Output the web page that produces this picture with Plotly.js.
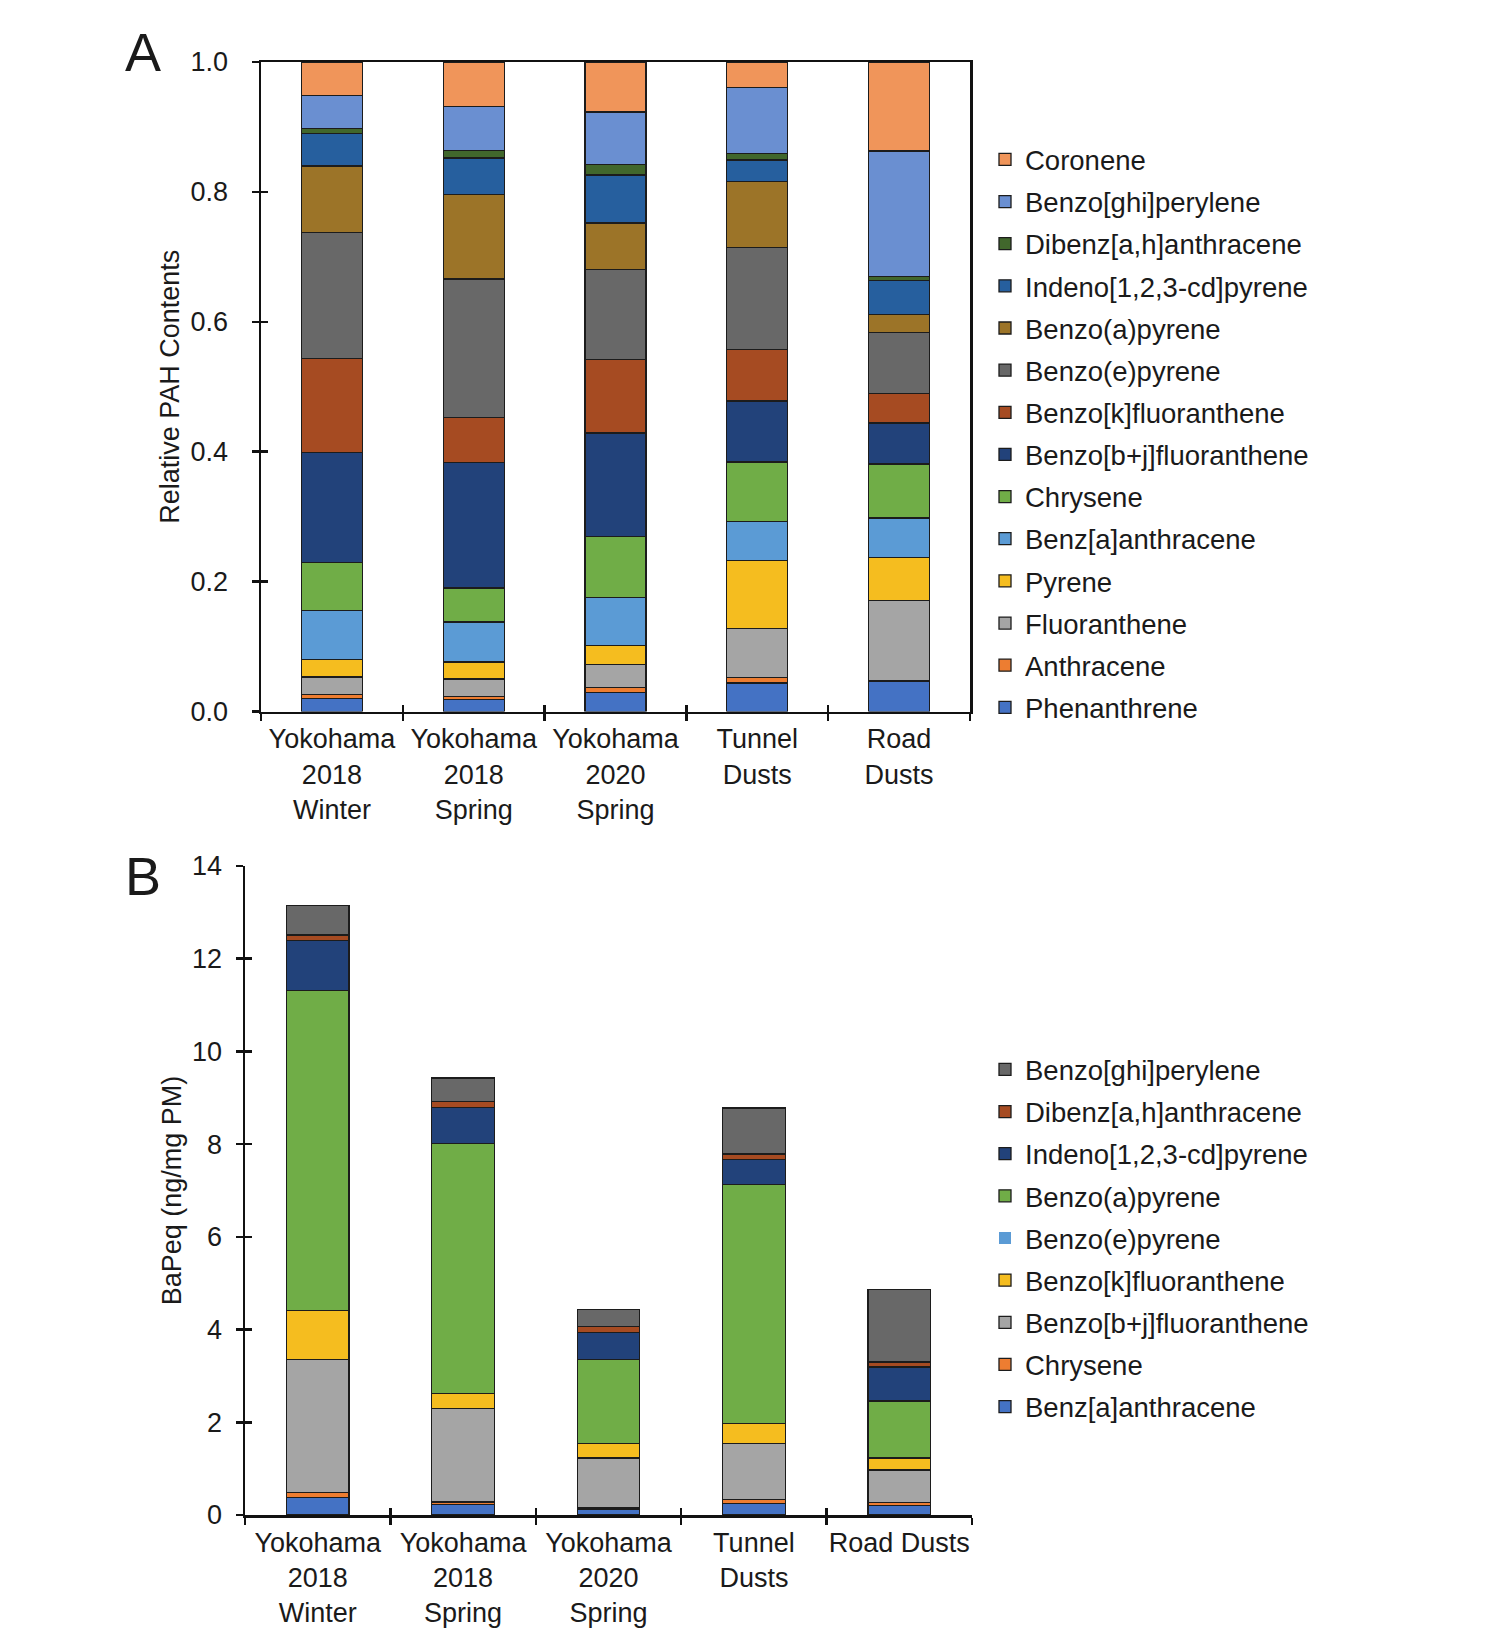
<!DOCTYPE html>
<html>
<head>
<meta charset="utf-8">
<script src="https://cdn.plot.ly/plotly-3.0.1.min.js"></script>
<style>html,body{margin:0;padding:0;background:#fff;}#chart{width:1492px;height:1652px;}</style>
</head>
<body>
<div id="chart"></div>
<script>
// ---------- Panel A data (relative PAH contents) ----------
const catsA = ["Yokohama<br>2018<br>Winter", "Yokohama<br>2018<br>Spring", "Yokohama<br>2020<br>Spring", "Tunnel<br>Dusts", "Road<br>Dusts"];
const namesA = ["Phenanthrene", "Anthracene", "Fluoranthene", "Pyrene", "Benz[a]anthracene", "Chrysene",
  "Benzo[b+j]fluoranthene", "Benzo[k]fluoranthene", "Benzo(e)pyrene", "Benzo(a)pyrene",
  "Indeno[1,2,3-cd]pyrene", "Dibenz[a,h]anthracene", "Benzo[ghi]perylene", "Coronene"];
const colorsA = ["#4472C4", "#ED7D31", "#A5A5A5", "#F5BD1F", "#5B9BD5", "#70AD47",
  "#22427A", "#A64B22", "#686868", "#9C7428", "#265F9E", "#41672C", "#6A8FD1", "#F0955A"];
const phenA   = [0.020, 0.018, 0.029, 0.044, 0.046];
const anthA   = [0.006, 0.005, 0.008, 0.008, 0.002];
const fluoA   = [0.027, 0.027, 0.035, 0.076, 0.123];
const pyrA    = [0.027, 0.026, 0.030, 0.105, 0.066];
const baaA    = [0.076, 0.062, 0.074, 0.060, 0.061];
const chrA    = [0.073, 0.052, 0.093, 0.091, 0.083];
const bbjfA   = [0.170, 0.193, 0.160, 0.094, 0.063];
const bkfA    = [0.145, 0.070, 0.113, 0.079, 0.046];
const bepA    = [0.193, 0.213, 0.138, 0.157, 0.094];
const bapA    = [0.103, 0.130, 0.072, 0.102, 0.027];
const indA    = [0.050, 0.056, 0.074, 0.033, 0.053];
const dbaA    = [0.008, 0.012, 0.016, 0.010, 0.006];
const bghiA   = [0.050, 0.067, 0.081, 0.102, 0.193];
const corA    = [0.052, 0.069, 0.077, 0.039, 0.137];
const valuesA = [phenA, anthA, fluoA, pyrA, baaA, chrA, bbjfA, bkfA, bepA, bapA, indA, dbaA, bghiA, corA];
const ticksA = [0, 0.2, 0.4, 0.6, 0.8, 1.0];
const tickTextA = ["0.0", "0.2", "0.4", "0.6", "0.8", "1.0"];

// ---------- Panel B data (BaPeq, ng/mg PM) ----------
const catsB = ["Yokohama<br>2018<br>Winter", "Yokohama<br>2018<br>Spring", "Yokohama<br>2020<br>Spring", "Tunnel<br>Dusts", "Road Dusts"];
const namesB = ["Benz[a]anthracene", "Chrysene", "Benzo[b+j]fluoranthene", "Benzo[k]fluoranthene",
  "Benzo(e)pyrene", "Benzo(a)pyrene", "Indeno[1,2,3-cd]pyrene", "Dibenz[a,h]anthracene", "Benzo[ghi]perylene"];
const colorsB = ["#4472C4", "#ED7D31", "#A5A5A5", "#F5BD1F", "#5B9BD5", "#70AD47", "#22427A", "#A64B22", "#686868"];
const baaB  = [0.38, 0.22, 0.13, 0.25, 0.20];
const chrB  = [0.10, 0.06, 0.03, 0.08, 0.07];
const bbjfB = [2.88, 2.02, 1.07, 1.21, 0.70];
const bkfB  = [1.05, 0.32, 0.31, 0.44, 0.26];
const bepB  = [0, 0, 0, 0, 0];
const bapB  = [6.90, 5.40, 1.81, 5.15, 1.23];
const indB  = [1.09, 0.77, 0.58, 0.54, 0.73];
const dbaB  = [0.11, 0.13, 0.14, 0.12, 0.11];
const bghiB = [0.64, 0.51, 0.36, 0.99, 1.56];
const valuesB = [baaB, chrB, bbjfB, bkfB, bepB, bapB, indB, dbaB, bghiB];
const ticksB = [0, 2, 4, 6, 8, 10, 12, 14];
const boundaryTicks = [-0.5, 0.5, 1.5, 2.5, 3.5, 4.5];

// ---------- traces ----------
const traces = [];
namesA.forEach((n, i) => {
  traces.push({
    type: "bar", name: n, x: catsA, y: valuesA[i],
    xaxis: "x", yaxis: "y", legend: "legend", legendgroup: "A" + i, legendrank: 1000 - i,
    marker: {color: colorsA[i], line: {color: "#1c1c1c", width: 1.3}},
    hoverinfo: "name+y"
  });
});
namesB.forEach((n, i) => {
  traces.push({
    type: "bar", name: n, x: catsB, y: valuesB[i],
    xaxis: "x2", yaxis: "y2", legend: "legend2", legendgroup: "B" + i, legendrank: 1000 - i,
    marker: {color: colorsB[i], line: {color: "#1c1c1c", width: n === "Benzo(e)pyrene" ? 0 : 1.3}},
    hoverinfo: "name+y"
  });
});
// empty helper traces so the overlay (inner tick) axes get drawn
traces.push({type: "scatter", mode: "markers", x: [null], y: [null], xaxis: "x3", yaxis: "y3", showlegend: false, hoverinfo: "skip"});
traces.push({type: "scatter", mode: "markers", x: [null], y: [null], xaxis: "x4", yaxis: "y4", showlegend: false, hoverinfo: "skip"});

const FONT = "Liberation Sans, Arial, sans-serif";
const TXT = "#1a1a1a";
const W = 1492, H = 1652;
const px = v => v / W;
const py = v => 1 - v / H;

const baseAxis = {
  showline: true, linecolor: "#111", linewidth: 2.5,
  ticks: "outside", tickcolor: "#111", tickwidth: 2.5, ticklen: 7,
  showgrid: false, zeroline: false,
  tickfont: {family: FONT, size: 27, color: TXT}
};
const innerTicks = {
  showline: false, showgrid: false, zeroline: false,
  ticks: "inside", ticklen: 7, tickwidth: 2.5, tickcolor: "#111",
  showticklabels: false
};

const legendCommon = {
  xanchor: "left", yanchor: "top",
  traceorder: "grouped", tracegroupgap: 3.4,
  font: {family: FONT, size: 27.5, color: TXT},
  bgcolor: "rgba(0,0,0,0)", borderwidth: 0
};

const layout = {
  width: W, height: H,
  margin: {l: 0, r: 0, t: 0, b: 0},
  paper_bgcolor: "#fff", plot_bgcolor: "#fff",
  font: {family: FONT, color: TXT},
  barmode: "stack",
  showlegend: true,
  // Panel A
  xaxis: Object.assign({}, baseAxis, {
    domain: [px(261), px(970)], anchor: "y", type: "category",
    tickson: "boundaries", mirror: true, ticklabelstandoff: 2, tickangle: 0
  }),
  yaxis: Object.assign({}, baseAxis, {
    domain: [py(711.5), py(62)], anchor: "x", range: [0, 1.0],
    tickvals: ticksA, ticktext: tickTextA, mirror: true, ticklabelstandoff: 18,
    title: {text: "Relative PAH Contents", font: {family: FONT, size: 27, color: TXT}, standoff: 3}
  }),
  xaxis3: Object.assign({}, innerTicks, {
    overlaying: "x", anchor: "y", range: [-0.5, 4.5], tickvals: boundaryTicks, side: "bottom"
  }),
  yaxis3: Object.assign({}, innerTicks, {
    overlaying: "y", anchor: "x3", range: [0, 1.0], tickvals: ticksA, side: "left"
  }),
  // Panel B
  xaxis2: Object.assign({}, baseAxis, {
    domain: [px(245), px(972)], anchor: "y2", type: "category",
    tickson: "boundaries", ticklabelstandoff: 2, tickangle: 0
  }),
  yaxis2: Object.assign({}, baseAxis, {
    domain: [py(1515), py(866)], anchor: "x2", range: [0, 14],
    tickvals: ticksB, ticklabelstandoff: 8,
    title: {text: "BaPeq (ng/mg PM)", font: {family: FONT, size: 27, color: TXT}, standoff: 3}
  }),
  xaxis4: Object.assign({}, innerTicks, {
    overlaying: "x2", anchor: "y2", range: [-0.5, 4.5], tickvals: boundaryTicks, side: "bottom"
  }),
  yaxis4: Object.assign({}, innerTicks, {
    overlaying: "y2", anchor: "x4", range: [0, 14], tickvals: ticksB, side: "left"
  }),
  bargap: 0.57,
  legend: Object.assign({}, legendCommon, {x: px(985), y: py(135)}),
  legend2: Object.assign({}, legendCommon, {x: px(985), y: py(1045)}),
  annotations: [
    {text: "A", x: px(143), y: py(52), xref: "paper", yref: "paper", showarrow: false,
     font: {family: FONT, size: 54, color: TXT}, xanchor: "center", yanchor: "middle"},
    {text: "B", x: px(143), y: py(876), xref: "paper", yref: "paper", showarrow: false,
     font: {family: FONT, size: 54, color: TXT}, xanchor: "center", yanchor: "middle"}
  ]
};

Plotly.newPlot("chart", traces, layout, {displayModeBar: false, staticPlot: true});
</script>
</body>
</html>
